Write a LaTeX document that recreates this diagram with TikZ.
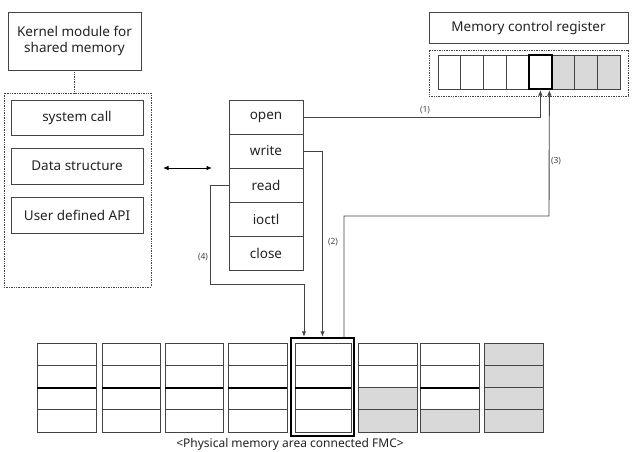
\documentclass[tikz,border=0pt]{standalone}
\usepackage{fontspec}
\setmainfont{Noto Sans}
\usetikzlibrary{arrows.meta,calc}
\definecolor{ln}{HTML}{444444}
\definecolor{gf}{HTML}{D9D9D9}
\definecolor{tx}{HTML}{222222}
\tikzset{
  box/.style={draw=ln, line width=0.9pt, inner sep=0pt, text=tx, font=\fontsize{13.5}{16.5}\selectfont, align=center},
  dotbox/.style={draw=ln, dash pattern=on 0.8pt off 0.9pt, line width=0.7pt, inner sep=0pt},
  cell/.style={draw=ln, line width=0.9pt, inner sep=0pt, minimum width=22.75pt, minimum height=34pt},
  mcell/.style={draw=ln, line width=0.9pt, inner sep=0pt, minimum height=22.25pt},
  conn/.style={draw=ln, line width=0.9pt, -{Latex[length=5.5pt,width=4.5pt]}},
  lab/.style={font=\fontsize{8.5}{10}\selectfont, text=ln, inner sep=1pt},
}
\begin{document}
\begin{tikzpicture}[x=1pt,y=-1pt]
\useasboundingbox (0,0) rectangle (633,451);
% left side
\node[box, minimum width=133pt, minimum height=58pt] (kern) at (74.5,41) {Kernel module for\\shared memory};
\node[dotbox, minimum width=147pt, minimum height=194pt] (mod) at (77.5,190) {};
\draw[ln, dash pattern=on 0.8pt off 0.9pt, line width=0.7pt] (kern.south) -- (kern.south |- mod.north);
\node[box, minimum width=132pt, minimum height=35pt] (sys) at (77,117.5) {system call};
\node[box, minimum width=132pt, minimum height=36pt] (data) at (77,166) {Data structure};
\node[box, minimum width=132pt, minimum height=36pt] (api) at (77,215) {User defined API};
\coordinate (da1) at (163,168);
\coordinate (da2) at (212,168);
\draw[line width=0.9pt, {Latex[length=5.5pt,width=4.5pt]}-{Latex[length=5.5pt,width=4.5pt]}] (da1) -- (da2);
% syscall table
\node[box, minimum width=74pt, minimum height=34pt] (open) at (266,117) {open};
\node[box, minimum width=74pt, minimum height=34pt] (write) at (266,151) {write};
\node[box, minimum width=74pt, minimum height=34pt] (read) at (266,185) {read};
\node[box, minimum width=74pt, minimum height=34pt] (ioctl) at (266,219) {ioctl};
\node[box, minimum width=74pt, minimum height=34pt] (close) at (266,253) {close};
% memory control register
\node[box, minimum width=199pt, minimum height=31pt] (mcr) at (528.5,27.5) {Memory control register};
\node[dotbox, minimum width=199pt, minimum height=46pt] (reg) at (528.5,73) {};
\foreach \i in {0,...,7} {
  \pgfmathsetmacro{\cx}{438+22.75*\i+11.375}
  \ifnum\i>4
    \node[cell, fill=gf] (r\i) at (\cx,72) {};
  \else
    \node[cell] (r\i) at (\cx,72) {};
  \fi
}
\node[cell, draw=black, line width=2.2pt] (rsel) at (r4) {};
% physical memory
\foreach \c/\x/\w in {1/37/59,2/102/58,3/165/58,4/228/59,5/295/56,6/358/59,7/420/59,8/484/59} {
  \foreach \r in {1,...,4} {
    \pgfmathsetmacro{\cy}{343+22.25*(\r-1)+11.125}
    \pgfmathsetmacro{\cx}{\x+\w/2}
    \node[mcell, minimum width=\w pt] (m\c\r) at (\cx,\cy) {};
  }
}
\foreach \n in {m63,m64,m74,m81,m82,m83,m84} {
  \node[mcell, minimum width=59pt, fill=gf] at (\n) {};
}
\foreach \c in {1,2,3,4,5,7} {
  \draw[black, line width=1.2pt] (m\c2.south west) -- (m\c2.south east);
}
\node[draw=black, line width=2.4pt, inner sep=0pt, minimum width=63pt, minimum height=98pt] (memsel) at (322.5,387) {};
\node[font=\fontsize{12}{14}\selectfont, text=tx, inner sep=0pt] (cap) at (290,444) {<Physical memory area connected FMC>};
% connectors
\draw[conn] (open.east) -| (rsel.south);
\node[lab] at (425,110) {(1)};
\draw[conn] (write.east) -| (memsel.north);
\node[lab] at (333,242) {(2)};
\draw[conn] ([xshift=21.5pt]memsel.north) |- (549,216) -- ([xshift=9pt]rsel.south);
\node[lab] at (556,161) {(3)};
\draw[conn] (read.west) -| (210,284) -| ([xshift=-18.5pt]memsel.north);
\node[lab] at (203,257) {(4)};
\end{tikzpicture}
\end{document}
